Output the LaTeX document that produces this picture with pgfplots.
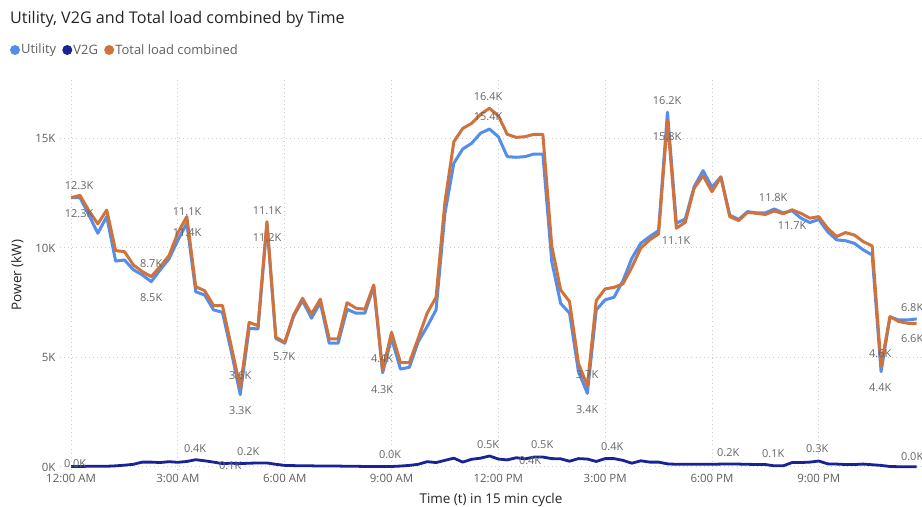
\documentclass[border=0pt]{standalone}
\usepackage{fontspec}
\setmainfont{Open Sans}
\usepackage{pgfplots}
\usepackage{pgfplotstable}
\pgfplotsset{compat=1.18}
\definecolor{utilc}{RGB}{84,142,236}
\definecolor{v2gc}{RGB}{24,36,150}
\definecolor{totc}{RGB}{207,114,60}
\definecolor{lblc}{RGB}{102,102,102}
\definecolor{tickc}{RGB}{96,94,92}
\definecolor{txtc}{RGB}{37,36,35}
\definecolor{gridc}{RGB}{205,205,205}
\tikzset{lbl/.style={font=\fontsize{11}{13}\selectfont, text=lblc, inner sep=0}}

\pgfplotstableread{
i util v2g total
0 12.3 0.02 12.3
1 12.3 0.02 12.4
2 11.5 0.03 11.7
3 10.67 0.03 11.1
4 11.43 0.03 11.73
5 9.4 0.05 9.88
6 9.45 0.08 9.83
7 9.0 0.12 9.22
8 8.77 0.22 8.92
9 8.46 0.22 8.69
10 9.0 0.20 9.15
11 9.5 0.24 9.65
12 10.36 0.21 10.7
13 11.13 0.25 11.43
14 8.0 0.33 8.23
15 7.85 0.28 8.05
16 7.17 0.22 7.37
17 7.06 0.15 7.37
18 5.26 0.17 5.5
19 3.3 0.15 3.6
20 6.33 0.17 6.6
21 6.3 0.18 6.45
22 11.1 0.18 11.2
23 5.87 0.12 5.92
24 5.65 0.07 5.69
25 6.88 0.06 6.94
26 7.6 0.05 7.7
27 6.79 0.05 6.98
28 7.5 0.04 7.66
29 5.65 0.04 5.85
30 5.65 0.04 5.85
31 7.2 0.03 7.5
32 7.02 0.03 7.25
33 7.02 0.02 7.2
34 8.25 0.02 8.31
35 4.3 0.02 4.4
36 5.88 0.02 6.15
37 4.47 0.04 4.76
38 4.55 0.07 4.76
39 5.72 0.12 5.88
40 6.41 0.24 7.02
41 7.17 0.20 7.75
42 11.58 0.30 12.1
43 13.87 0.40 14.85
44 14.52 0.22 15.46
45 14.78 0.35 15.69
46 15.24 0.40 16.1
47 15.43 0.50 16.38
48 15.08 0.36 16.03
49 14.17 0.32 15.19
50 14.14 0.42 15.05
51 14.17 0.37 15.08
52 14.29 0.45 15.19
53 14.29 0.45 15.19
54 9.38 0.38 10.1
55 7.47 0.37 8.08
56 7.02 0.26 7.55
57 4.35 0.38 4.73
58 3.36 0.36 3.7
59 7.17 0.25 7.6
60 7.63 0.38 8.13
61 7.75 0.38 8.2
62 8.5 0.30 8.36
63 9.53 0.17 9.12
64 10.21 0.28 9.99
65 10.52 0.22 10.37
66 10.79 0.22 10.64
67 16.2 0.14 15.84
68 11.13 0.12 10.9
69 11.32 0.12 11.17
70 12.8 0.12 12.73
71 13.53 0.12 13.3
72 12.77 0.12 12.57
73 13.25 0.13 13.23
74 11.5 0.13 11.43
75 11.3 0.13 11.25
76 11.66 0.12 11.63
77 11.6 0.11 11.58
78 11.6 0.11 11.53
79 11.78 0.05 11.69
80 11.6 0.05 11.56
81 11.7 0.20 11.74
82 11.36 0.20 11.58
83 11.16 0.22 11.36
84 11.3 0.27 11.43
85 10.74 0.14 10.9
86 10.37 0.13 10.52
87 10.33 0.11 10.7
88 10.21 0.11 10.59
89 9.91 0.13 10.29
90 9.68 0.10 10.09
91 4.35 0.07 4.6
92 6.85 0.02 6.86
93 6.71 0.01 6.64
94 6.71 0.01 6.56
95 6.76 0.01 6.56
}\data

\begin{document}
\begin{tikzpicture}[x=1bp,y=1bp]
\path[use as bounding box] (0,0) rectangle (922,507);
\node[anchor=west, font=\fontsize{16.2}{19}\selectfont, text=txtc, inner sep=0] at (10,488) {Utility, V2G and Total load combined by Time};
% legend
\fill[utilc] (15,457) circle (5);
\node[anchor=west, inner sep=0, font=\fontsize{13}{15}\selectfont, text=tickc] (l1) at (21,457) {Utility};
\fill[v2gc] ([xshift=11]l1.east) circle (5);
\node[anchor=west, inner sep=0, font=\fontsize{13}{15}\selectfont, text=tickc] (l2) at ([xshift=17]l1.east) {V2G};
\fill[totc] ([xshift=11]l2.east) circle (5);
\node[anchor=west, inner sep=0, font=\fontsize{13}{15}\selectfont, text=tickc] (l3) at ([xshift=17]l2.east) {Total load combined};
\begin{axis}[
  at={(60bp,37bp)}, anchor=south west,
  scale only axis, width=862bp, height=390bp,
  xmin=-1.25, xmax=95.6, ymin=-0.14, ymax=17.67,
  axis line style={draw=none},
  tick style={draw=none},
  xtick={0,12,24,36,48,60,72,84},
  xticklabels={12:00 AM,3:00 AM,6:00 AM,9:00 AM,12:00 PM,3:00 PM,6:00 PM,9:00 PM},
  ytick={0,5,10,15},
  yticklabels={0K,5K,10K,15K},
  ticklabel style={font=\fontsize{11.5}{13}\selectfont, text=tickc},
  xticklabel style={yshift=-1bp},
  yticklabel style={xshift=-1bp},
  xmajorgrids, ymajorgrids,
  major grid style={draw=gridc, line width=0.9bp, dash pattern=on 0.9bp off 3.2bp},
  xlabel={Time (t) in 15 min cycle},
  ylabel={Power (kW)},
  label style={font=\fontsize{13.5}{16}\selectfont, text=txtc},
  xlabel style={yshift=-3bp},
  ylabel style={yshift=5bp},
  clip=false,
]
\addplot[utilc, line width=3bp, line join=round] table[x=i,y=util]{\data};
\addplot[totc, line width=3bp, line join=round] table[x=i,y=total]{\data};
\addplot[v2gc, line width=2.8bp, line join=round] table[x=i,y=v2g]{\data};
% data labels
\node[lbl] at (axis cs:0.9,12.83) {12.3K};
\node[lbl] at (axis cs:0.9,11.55) {12.3K};
\node[lbl] at (axis cs:13.03,11.64) {11.1K};
\node[lbl] at (axis cs:13.03,10.68) {11.4K};
\node[lbl] at (axis cs:8.99,9.27) {8.7K};
\node[lbl] at (axis cs:8.99,7.72) {8.5K};
\node[lbl] at (axis cs:22.02,11.69) {11.1K};
\node[lbl] at (axis cs:22.02,10.46) {11.2K};
\node[lbl] at (axis cs:18.99,4.16) {3.6K};
\node[lbl] at (axis cs:18.99,2.56) {3.3K};
\node[lbl] at (axis cs:23.93,5.02) {5.7K};
\node[lbl] at (axis cs:34.94,4.93) {4.4K};
\node[lbl] at (axis cs:34.94,3.52) {4.3K};
\node[lbl] at (axis cs:46.85,16.89) {16.4K};
\node[lbl] at (axis cs:46.85,15.98) {15.4K};
\node[lbl] at (axis cs:57.98,4.2) {3.7K};
\node[lbl] at (axis cs:57.98,2.6) {3.4K};
\node[lbl] at (axis cs:66.97,16.71) {16.2K};
\node[lbl] at (axis cs:66.97,15.07) {15.8K};
\node[lbl] at (axis cs:67.98,10.32) {11.1K};
\node[lbl] at (axis cs:78.88,12.28) {11.8K};
\node[lbl] at (axis cs:81.01,11.0) {11.7K};
\node[lbl] at (axis cs:90.9,5.16) {4.6K};
\node[lbl] at (axis cs:90.9,3.61) {4.4K};
\node[lbl] at (axis cs:94.49,7.26) {6.8K};
\node[lbl] at (axis cs:94.49,5.84) {6.6K};
\node[lbl] at (axis cs:0.45,0.14) {0.0K};
\node[lbl] at (axis cs:13.93,0.82) {0.4K};
\node[lbl] at (axis cs:17.87,0.05) {0.1K};
\node[lbl] at (axis cs:19.89,0.68) {0.2K};
\node[lbl] at (axis cs:35.84,0.55) {0.0K};
\node[lbl] at (axis cs:46.85,1.0) {0.5K};
\node[lbl] at (axis cs:51.57,0.27) {0.4K};
\node[lbl] at (axis cs:52.92,1.0) {0.5K};
\node[lbl] at (axis cs:60.79,0.91) {0.4K};
\node[lbl] at (axis cs:73.82,0.64) {0.2K};
\node[lbl] at (axis cs:78.88,0.59) {0.1K};
\node[lbl] at (axis cs:83.82,0.82) {0.3K};
\node[lbl] at (axis cs:94.49,0.46) {0.0K};
\end{axis}
\end{tikzpicture}
\end{document}
